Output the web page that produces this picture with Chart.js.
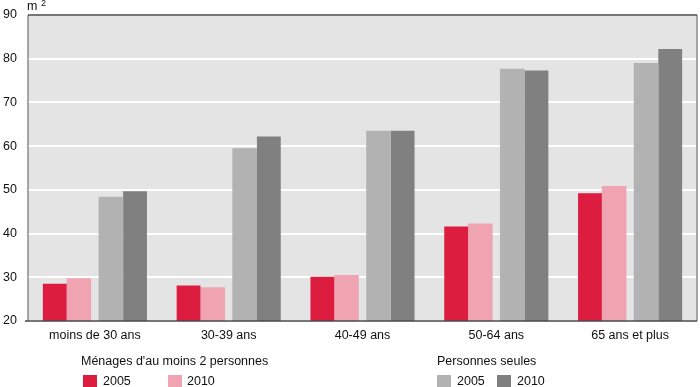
<!DOCTYPE html>
<html><head><meta charset="utf-8">
<script src="https://cdn.jsdelivr.net/npm/chart.js@4/dist/chart.umd.min.js"></script>
<style>
html,body{margin:0;padding:0;background:#fff;}
#wrap{position:relative;width:700px;height:387px;font-family:"Liberation Sans",Arial,Helvetica,sans-serif;color:#111;font-size:12.5px;overflow:hidden;}
canvas{position:absolute;left:0;top:0;}
.t{position:absolute;line-height:1;white-space:nowrap;}
.sw{position:absolute;width:14px;height:12px;}
</style></head><body>
<div id="wrap">
<canvas id="c" width="700" height="387"></canvas>
<div class="t" style="left:27px;top:0px">m <span style="font-size:9px;position:relative;top:-4px">2</span></div>
<div class="t" style="left:81px;top:355px">Ménages d'au moins 2 personnes</div>
<div class="sw" style="left:83px;top:375px;background:#dc1d40"></div>
<div class="t" style="left:103px;top:375px">2005</div>
<div class="sw" style="left:168px;top:375px;background:#f0a4b1"></div>
<div class="t" style="left:187px;top:375px">2010</div>
<div class="t" style="left:437px;top:355px">Personnes seules</div>
<div class="sw" style="left:437px;top:375px;background:#b2b2b2"></div>
<div class="t" style="left:457px;top:375px">2005</div>
<div class="sw" style="left:497px;top:375px;background:#808080"></div>
<div class="t" style="left:517px;top:375px">2010</div>
</div>
<script>
const categories = ["moins de 30 ans", "30-39 ans", "40-49 ans", "50-64 ans", "65 ans et plus"];
const menages2005 = [28.5, 28.1, 30.1, 41.6, 49.2];
const menages2010 = [29.8, 27.7, 30.5, 42.3, 50.9];
const seules2005 = [48.4, 59.5, 63.5, 77.7, 79.0];
const seules2010 = [49.7, 62.2, 63.5, 77.3, 82.2];
const yTicks = [20, 30, 40, 50, 60, 70, 80, 90];

const FONT = {family: '"Liberation Sans", Arial, Helvetica, sans-serif', size: 12.5};

const plotFrame = {
  id: 'plotFrame',
  beforeDraw(chart) {
    const {ctx, chartArea: a} = chart;
    ctx.save();
    ctx.fillStyle = '#e4e4e4';
    ctx.fillRect(a.left, a.top, a.right - a.left, a.bottom - a.top);
    ctx.restore();
  },
  afterDraw(chart) {
    const {ctx, chartArea: a} = chart;
    ctx.save();
    ctx.lineWidth = 1.5;
    ctx.strokeStyle = '#8c8c8c';
    ctx.beginPath();
    ctx.moveTo(a.left, a.top); ctx.lineTo(a.left, a.bottom);
    ctx.moveTo(a.right, a.top); ctx.lineTo(a.right, a.bottom);
    ctx.stroke();
    ctx.strokeStyle = '#4a4a4a';
    ctx.beginPath();
    ctx.moveTo(a.left, a.top); ctx.lineTo(a.right, a.top);
    ctx.moveTo(a.left - 3, a.bottom); ctx.lineTo(a.right, a.bottom);
    ctx.stroke();
    ctx.restore();
  }
};

const outerPct = 0.80, outerBar = 0.89, innerPct = 0.955, innerBar = 0.77;

new Chart(document.getElementById('c'), {
  type: 'bar',
  data: {
    labels: categories,
    datasets: [
      {label: 'Ménages 2005', data: menages2005, backgroundColor: '#dc1d40', categoryPercentage: outerPct, barPercentage: outerBar},
      {label: 'Ménages 2010', data: menages2010, backgroundColor: '#f0a4b1', categoryPercentage: innerPct, barPercentage: innerBar},
      {label: 'Seules 2005', data: seules2005, backgroundColor: '#b2b2b2', categoryPercentage: innerPct, barPercentage: innerBar},
      {label: 'Seules 2010', data: seules2010, backgroundColor: '#808080', categoryPercentage: outerPct, barPercentage: outerBar}
    ]
  },
  options: {
    responsive: false,
    animation: false,
    events: [],
    layout: {padding: {top: 15, right: 3, left: 0, bottom: 0}},
    plugins: {legend: {display: false}, tooltip: {enabled: false}},
    scales: {
      x: {
        grid: {display: false, drawTicks: false},
        border: {display: false},
        ticks: {font: FONT, color: '#111', padding: 7, maxRotation: 0, autoSkip: false},
        afterFit(s) { s.height = 66; s.paddingLeft = 0; s.paddingRight = 0; }
      },
      y: {
        min: 20, max: 90,
        afterBuildTicks(s) { s.ticks = yTicks.map(v => ({value: v})); },
        grid: {color: '#ffffff', lineWidth: 2, drawTicks: false},
        border: {display: false},
        ticks: {font: FONT, color: '#111', padding: 11},
        afterFit(s) { s.width = 28; s.paddingTop = 0; s.paddingBottom = 0; }
      }
    }
  },
  plugins: [plotFrame]
});
</script>
</body></html>
